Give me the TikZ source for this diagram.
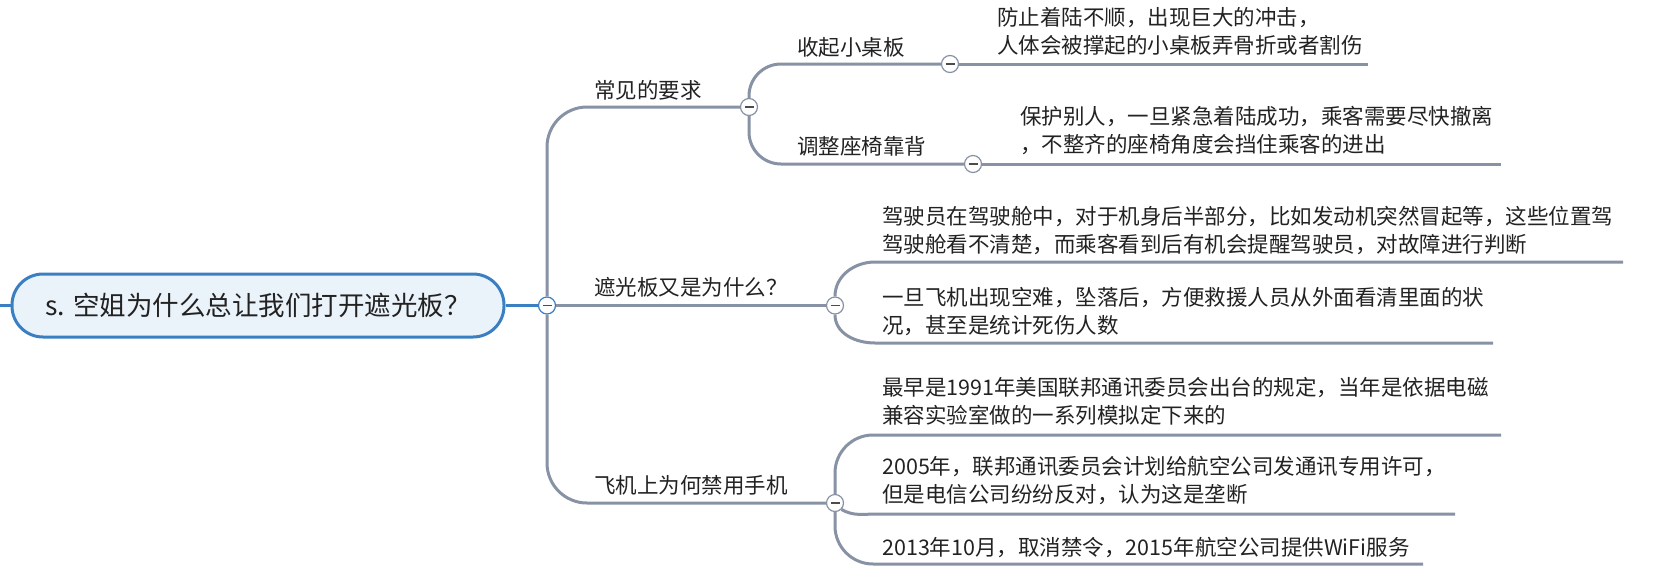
\documentclass[tikz,border=0pt]{standalone}
\usepackage{fontspec}
\setmainfont{Noto Sans CJK SC}
\usetikzlibrary{calc}
\definecolor{mapblue}{HTML}{3A7FC2}
\definecolor{mapgray}{HTML}{8792A4}
\definecolor{mapfill}{HTML}{EAF2FA}
\definecolor{maptext}{HTML}{222222}

\begin{document}
\begin{tikzpicture}[x=1pt,y=-1pt,
    trunk/.style={mapblue,line width=3pt},
    branch/.style={mapgray,line width=3pt},
    topic/.style={draw=mapblue,line width=3pt,fill=mapfill,rounded corners=31pt,
        minimum width=492pt,minimum height=63pt,text=maptext,
        font=\fontsize{26.5}{32}\selectfont},
    fold/.style={circle,draw=#1,fill=white,line width=1.2pt,minimum size=17pt,inner sep=0pt,
        path picture={\draw[black!70,line width=1.6pt]
            ($(path picture bounding box.center)+(-4.5,0)$) -- ($(path picture bounding box.center)+(4.5,0)$);}},
    fold/.default=mapgray,
    sub/.style={anchor=west,inner sep=0pt,text=maptext,font=\fontsize{21.5}{28}\selectfont},
    leaf/.style={sub,align=left}]
    \useasboundingbox (0,0) rectangle (1663,576);

    \node[topic] (root) at (258,305.5) {s. 空姐为什么总让我们打开遮光板？};
    \coordinate (rootin) at (0,305.5);

    \node[fold=mapblue] (c0) at (547,305.5) {};
    \node[fold] (c1) at (749,107) {};
    \node[fold] (c2) at (835,305.5) {};
    \node[fold] (c3) at (835,503) {};
    \node[fold] (c11) at (950,64) {};
    \node[fold] (c12) at (973,164) {};

    \node[sub] (ask) at (594,90) {常见的要求};
    \node[sub] (shade) at (594,287) {遮光板又是为什么？};
    \node[sub] (phone) at (594,485) {飞机上为何禁用手机};
    \node[sub] (table) at (797,47) {收起小桌板};
    \node[sub] (seat) at (797,146) {调整座椅靠背};

    \node[leaf] (tipa) at (997,31.5) {防止着陆不顺，出现巨大的冲击，\\人体会被撑起的小桌板弄骨折或者割伤};
    \node[leaf] (tipb) at (1020,130.5) {保护别人，一旦紧急着陆成功，乘客需要尽快撤离\\，不整齐的座椅角度会挡住乘客的进出};
    \node[leaf] (tipc) at (882,230.5) {驾驶员在驾驶舱中，对于机身后半部分，比如发动机突然冒起等，这些位置驾\\驾驶舱看不清楚，而乘客看到后有机会提醒驾驶员，对故障进行判断};
    \node[leaf] (tipd) at (882,311.5) {一旦飞机出现空难，坠落后，方便救援人员从外面看清里面的状\\况，甚至是统计死伤人数};
    \node[leaf] (tipe) at (882,401.5) {最早是1991年美国联邦通讯委员会出台的规定，当年是依据电磁\\兼容实验室做的一系列模拟定下来的};
    \node[leaf] (tipf) at (882,480.5) {2005年，联邦通讯委员会计划给航空公司发通讯专用许可，\\但是电信公司纷纷反对，认为这是垄断};
    \node[leaf] (tipg) at (882,547) {2013年10月，取消禁令，2015年航空公司提供WiFi服务};

    \coordinate (enda) at (1368,64);
    \coordinate (endb) at (1501,164);
    \coordinate (bendc) at (875,262);
    \coordinate (endc) at (1623,262);
    \coordinate (bendd) at (875,343);
    \coordinate (endd) at (1493,343);
    \coordinate (ende) at (1501,435);
    \coordinate (bendf) at (877,514);
    \coordinate (endf) at (1455,514);
    \coordinate (endg) at (1423,564);

    \draw[trunk] (rootin) -- (root.west);
    \draw[trunk] (root.east) -- (c0.west);

    \draw[branch,rounded corners=40pt] (c0.north) |- (c1.west);
    \draw[branch] (c0.east) -- (c2.west);
    \draw[branch,rounded corners=40pt] (c0.south) |- (c3.west);

    \draw[branch,rounded corners=32pt] (c1.north) |- (c11.west);
    \draw[branch,rounded corners=32pt] (c1.south) |- (c12.west);
    \draw[branch] (c11.east) -- (enda);
    \draw[branch] (c12.east) -- (endb);

    \draw[branch] (c2.north) to[out=90,in=180] (bendc) -- (endc);
    \draw[branch] (c2.south) to[out=-90,in=180] (bendd) -- (endd);

    \draw[branch,rounded corners=38pt] (c3.north) |- (ende);
    \draw[branch] (c3.south east) to[out=-30,in=180] (bendf) -- (endf);
    \draw[branch,rounded corners=38pt] (c3.south) |- (endg);
\end{tikzpicture}
\end{document}
